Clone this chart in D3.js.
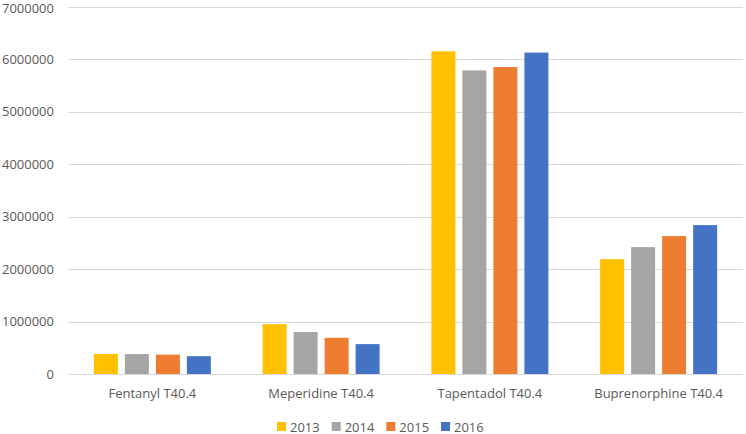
<html>
<head>
  <script src="https://cdn.jsdelivr.net/npm/d3@7"></script>
  <style>
    body { margin:0; background:#fff; }
    text { font-family:"Open Sans", sans-serif; fill:#595959; }
  </style>
</head>
<body>
  <div id="chart"></div>
  <script>

  var drugs = ["Fentanyl T40.4", "Meperidine T40.4", "Tapentadol T40.4", "Buprenorphine T40.4"]
  var years = ["2013", "2014", "2015", "2016"]
  var colors = ["#FFC000", "#A5A5A5", "#ED7D31", "#4472C4"]
  // one row per drug, one value per year
  var v2013 = [382000, 950000, 6155000, 2190000]
  var v2014 = [380000, 800000, 5790000, 2420000]
  var v2015 = [370000, 690000, 5855000, 2630000]
  var v2016 = [340000, 570000, 6130000, 2840000]
  var yTicks = [0, 1000000, 2000000, 3000000, 4000000, 5000000, 6000000, 7000000]

  var series = [v2013, v2014, v2015, v2016]

  var W = 746, H = 434
  var svg = d3.select("#chart").append("svg").attr("width", W).attr("height", H)

  var x0 = d3.scaleBand().domain(drugs).range([68, 743])
  var x1 = d3.scaleBand().domain(years).range([-62, 62]).paddingInner(0.226).paddingOuter(0.113)
  var y = d3.scaleLinear().domain([0, 7000000]).range([374, 7])

  // gridlines
  svg.append("g").selectAll("line").data(yTicks).join("line")
      .attr("x1", 68).attr("x2", 743)
      .attr("y1", function(d) { return Math.round(y(d)) + 0.5 })
      .attr("y2", function(d) { return Math.round(y(d)) + 0.5 })
      .style("stroke", "#d9d9d9").style("stroke-width", 1)

  // the top label sits right at the edge, keep it inside
  svg.append("g").selectAll("text").data(yTicks).join("text")
      .attr("x", 54).attr("y", function(d) { return Math.max(y(d) + 4.5, 13) })
      .attr("text-anchor", "end").style("font-size", "13px")
      .text(function(d) { return d })

  // bars
  var groups = svg.append("g").selectAll("g").data(drugs).join("g")
      .attr("transform", function(d) { return "translate(" + (x0(d) + x0.bandwidth()/2) + ",0)" })

  groups.selectAll("rect")
      .data(function(d, i) { return years.map(function(yr, j) { return {year: yr, j: j, v: series[j][i]} }) })
      .join("rect")
      .attr("x", function(d) { return x1(d.year) })
      .attr("width", x1.bandwidth())
      .attr("y", function(d) { return y(d.v) })
      .attr("height", function(d) { return y(0) - y(d.v) })
      .style("fill", function(d) { return colors[d.j] })

  // category labels
  svg.append("g").selectAll("text").data(drugs).join("text")
      .attr("x", function(d) { return x0(d) + x0.bandwidth()/2 })
      .attr("y", 398).attr("text-anchor", "middle").style("font-size", "13px")
      .text(function(d) { return d })

  // legend
  var legX = d3.scalePoint().domain(years).range([277, 441])
  var leg = svg.append("g").selectAll("g").data(years).join("g")
      .attr("transform", function(d) { return "translate(" + legX(d) + ",0)" })
  leg.append("rect").attr("x", 0).attr("y", 422).attr("width", 9).attr("height", 9)
      .style("fill", function(d, i) { return colors[i] })
  leg.append("text").attr("x", 13).attr("y", 431.5).style("font-size", "13px")
      .text(function(d) { return d })

</script>
</body>
</html>
